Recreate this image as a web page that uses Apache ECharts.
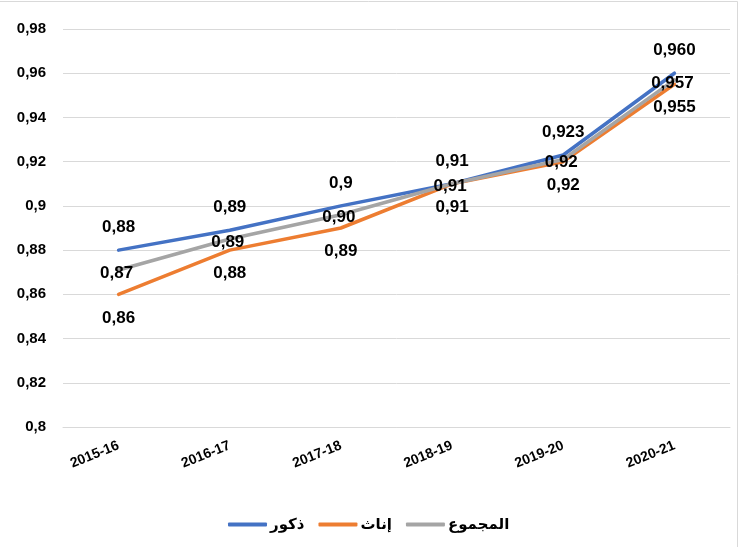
<!DOCTYPE html>
<html>
<head>
<meta charset="utf-8">
<script src="https://cdn.jsdelivr.net/npm/echarts@6/dist/echarts.min.js"></script>
<style>
html,body{margin:0;padding:0;background:#fff;}
#chart{width:745px;height:547px;}
</style>
</head>
<body>
<div id="chart"></div>
<script>
const categories = ['2015-16','2016-17','2017-18','2018-19','2019-20','2020-21'];
const seriesNames = ['ذكور','إناث','المجموع'];
const males   = [0.880, 0.889, 0.900, 0.910, 0.923, 0.960];
const females = [0.860, 0.880, 0.890, 0.910, 0.920, 0.955];
const total   = [0.871, 0.885, 0.896, 0.910, 0.921, 0.957];
const malesLabels   = ['0,88','0,89','0,9','0,91','0,923','0,960'];
const femalesLabels = ['0,86','0,88','0,89','0,91','0,92','0,955'];
const totalLabels   = ['0,87','0,89','0,90','0,91','0,92','0,957'];
const yMin = 0.8, yMax = 0.98, yStep = 0.02;

const FONT = '"Liberation Sans", "DejaVu Sans", Arial, sans-serif';
const chart = echarts.init(document.getElementById('chart'), null, {renderer:'canvas'});

function lbl(arr, pos, dist) {
  return {
    show: true, position: pos, distance: dist,
    formatter: p => arr[p.dataIndex],
    fontFamily: FONT, fontWeight: 'bold', fontSize: 17, color: '#000'
  };
}

chart.setOption({
  backgroundColor: '#fff',
  animation: false,
  graphic: [{
    type: 'rect', shape: {x: -2, y: 1.5, width: 739.5, height: 560},
    style: {fill: 'none', stroke: '#d9d9d9', lineWidth: 1}, silent: true, z: -10
  }],
  grid: {left: 63, right: 15, top: 29, bottom: 120, containLabel: false},
  xAxis: {
    type: 'category', data: categories, boundaryGap: true,
    axisLine: {show: true, lineStyle: {color: '#d9d9d9', width: 1}},
    axisTick: {show: false},
    axisLabel: {rotate: 22, margin: 18, fontFamily: FONT, fontWeight: 'bold', fontSize: 14, color: '#000'}
  },
  yAxis: {
    type: 'value', min: yMin, max: yMax, interval: yStep,
    axisLine: {show: false}, axisTick: {show: false},
    splitLine: {lineStyle: {color: '#d9d9d9', width: 1}},
    axisLabel: {
      margin: 17, fontFamily: FONT, fontWeight: 'bold', fontSize: 15, color: '#000',
      formatter: v => (Math.round(v * 100) / 100).toString().replace('.', ',')
    }
  },
  legend: {
    data: seriesNames, left: 223, top: 512,
    icon: 'roundRect', itemWidth: 39, itemHeight: 4, itemGap: 14,
    textStyle: {fontFamily: FONT, fontWeight: 'bold', fontSize: 15, color: '#000', padding: [0,0,0,-2]}
  },
  series: [
    {name: seriesNames[0], type: 'line', data: males, symbol: 'circle', symbolSize: 0, z: 1,
     itemStyle: {color: '#4472C4'}, lineStyle: {color: '#4472C4', width: 3.5, cap: 'round'},
     label: lbl(malesLabels, 'top', 14)},
    {name: seriesNames[1], type: 'line', data: females, symbol: 'circle', symbolSize: 0, z: 2,
     itemStyle: {color: '#ED7D31'}, lineStyle: {color: '#ED7D31', width: 3.5, cap: 'round'},
     label: lbl(femalesLabels, 'bottom', 15)},
    {name: seriesNames[2], type: 'line', data: total, symbol: 'circle', symbolSize: 0, z: 3,
     itemStyle: {color: '#A5A5A5'}, lineStyle: {color: '#A5A5A5', width: 3.5, cap: 'round'},
     label: Object.assign(lbl(totalLabels, 'inside', 0), {offset: [-2, 3]})}
  ]
});
</script>
</body>
</html>
